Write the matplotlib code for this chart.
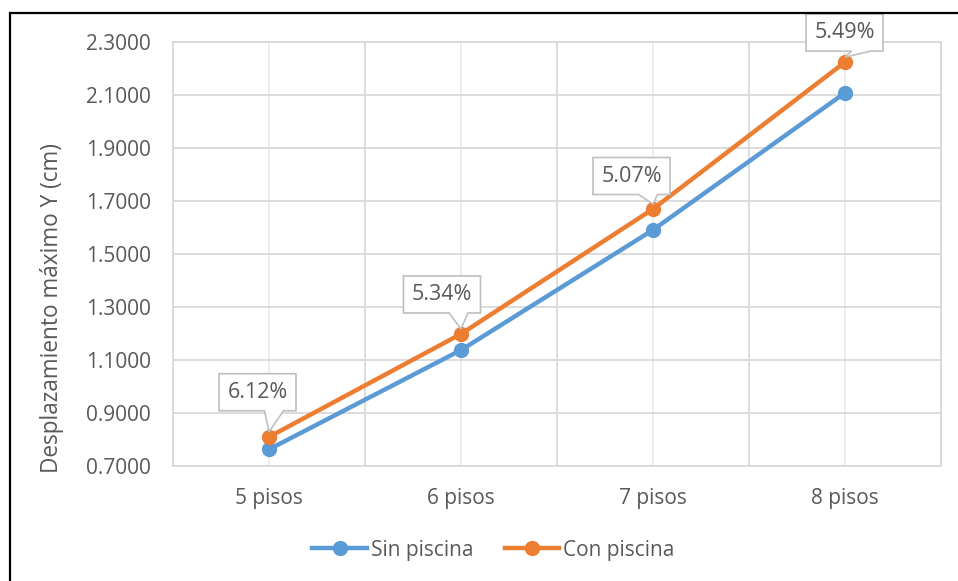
import matplotlib
matplotlib.use('Agg')
import matplotlib.pyplot as plt
from matplotlib.patches import Rectangle, Polygon
from matplotlib.transforms import Affine2D, ScaledTranslation

pisos = ['5 pisos', '6 pisos', '7 pisos', '8 pisos']
sin_piscina = [0.761, 1.136, 1.590, 2.108]
con_piscina = [0.808, 1.197, 1.669, 2.224]
etiquetas = ['6.12%', '5.34%', '5.07%', '5.49%']
# centre of each callout box relative to its point (pixels)
offsets = [(-11.5, 44.7), (-19, 39.5), (-21.5, 33), (-0.5, 29.5)]

azul = '#5B9BD5'
naranja = '#ED7D31'
gris_txt = '#595959'

plt.rcParams['font.family'] = ['Open Sans', 'DejaVu Sans']

fig = plt.figure(figsize=(9.58, 5.81), dpi=100)
ax = fig.add_axes([173/958, 1-465.5/581, 768/958, 423.5/581])

x = list(range(1, len(pisos)+1))
ax.plot(x, sin_piscina, color=azul, lw=3.2, marker='o', ms=10, label='Sin piscina', zorder=3)
ax.plot(x, con_piscina, color=naranja, lw=3.2, marker='o', ms=10, label='Con piscina', zorder=4)

# callouts: box + pointer drawn as one shape, in pixels around the point
hw, hh = 38.5, 18.5
for xi, yi, txt, (ox, oy) in zip(x, con_piscina, etiquetas, offsets):
    verts = [(ox-hw, oy-hh), (ox+7, oy-hh), (0, 5), (ox+26, oy-hh),
             (ox+hw, oy-hh), (ox+hw, oy+hh), (ox-hw, oy+hh)]
    tr = Affine2D() + ScaledTranslation(xi, yi, ax.transData)
    ax.add_patch(Polygon(verts, closed=True, transform=tr, fc='white',
                         ec='#BFBFBF', lw=1.2, zorder=5, clip_on=False))
    ax.annotate(txt, xy=(xi, yi), xytext=(ox, oy), textcoords='offset pixels',
                ha='center', va='center', fontsize=15.5, color=gris_txt, zorder=6,
                annotation_clip=False)

ax.set_xlim(0.5, len(pisos)+0.5)
ax.set_ylim(0.7, 2.3)
ax.set_yticks([0.7 + 0.2*i for i in range(9)])
ax.yaxis.set_major_formatter(matplotlib.ticker.FormatStrFormatter('%.4f'))
ax.set_xticks(x)
ax.set_xticklabels(pisos)
ax.set_xticks([i + 0.5 for i in range(len(pisos)+1)], minor=True)
ax.tick_params(axis='both', which='both', length=0, labelsize=15, labelcolor=gris_txt)
ax.tick_params(axis='x', pad=16)
ax.tick_params(axis='y', pad=16)

ax.grid(True, which='minor', axis='x', color='#D9D9D9', lw=1.3, zorder=0)
ax.grid(True, which='major', axis='x', color='#EBEBEB', lw=1.3, zorder=0)
ax.grid(True, which='major', axis='y', color='#D9D9D9', lw=1.3, zorder=0)
ax.set_axisbelow(True)
for s in ax.spines.values():
    s.set_color('#D9D9D9')
    s.set_linewidth(1.3)

ax.set_ylabel('Desplazamiento máximo Y (cm)', fontsize=16.3, color=gris_txt)
ax.yaxis.set_label_coords(-0.142, 0.372)

fig.legend(loc='center', bbox_to_anchor=(0.515, 0.053), ncol=2, frameon=False,
           fontsize=15, labelcolor=gris_txt, handlelength=2.6, handletextpad=0.2,
           columnspacing=1.5)

fig.patches.append(Rectangle((9.5/958, -0.5), 2, 0.5 + (581-13)/581,
                             transform=fig.transFigure, fill=False,
                             ec='black', lw=1.6))

fig.savefig('out.png', dpi=100)
